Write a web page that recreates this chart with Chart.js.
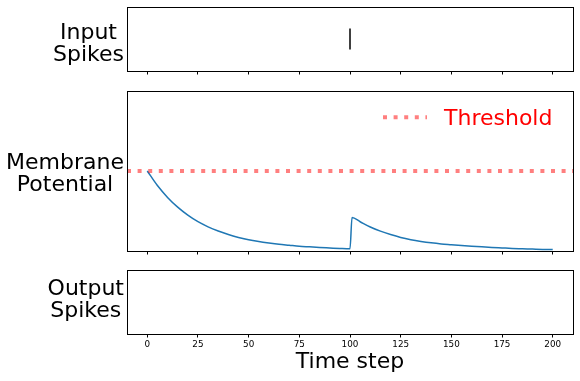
<!DOCTYPE html>
<html>
<head>
<meta charset="utf-8">
<script src="https://cdn.jsdelivr.net/npm/chart.js@4.4.1/dist/chart.umd.min.js"></script>
<style>
  html, body { margin: 0; padding: 0; background: #ffffff; }
  body { width: 580px; height: 381px; overflow: hidden; position: relative; font-family: "DejaVu Sans", sans-serif; }
  canvas { position: absolute; left: 0; }
  .ylab { position: absolute; right: 456px; text-align: center; font-size: 22px; line-height: 22px; color: #000; white-space: nowrap; }
  .leg { position: absolute; left: 444px; font-size: 22px; line-height: 26px; color: #ff0000; white-space: nowrap; }
</style>
</head>
<body>
<canvas id="c1" width="580" height="85" style="top:0px"></canvas>
<canvas id="c2" width="580" height="180" style="top:85px"></canvas>
<canvas id="c3" width="580" height="116" style="top:265px"></canvas>
<div class="ylab" style="top:21.4px">Input<br>Spikes</div>
<div class="ylab" style="top:151.4px">Membrane<br>Potential</div>
<div class="ylab" style="top:277px">Output<br>Spikes</div>
<div class="leg" style="top:105.4px">Threshold</div>
<script>
// ---- data ----
const timeTicks = [0, 25, 50, 75, 100, 125, 150, 175, 200];
const xLimits = [-10, 210];
const inputSpikeTimes = [100];
const outputSpikeTimes = [];
const thresholdValue = 0.5;
const memTime = [0, 5, 10, 15, 20, 25, 30, 35, 40, 45, 50, 55, 60, 65, 70, 75, 80, 85, 90, 95, 100,
                 101, 105, 110, 115, 120, 125, 130, 135, 140, 145, 150, 155, 160, 165, 170, 175, 180, 185, 190, 195, 200];
const memValues = [0.500, 0.409, 0.335, 0.274, 0.224, 0.183, 0.151, 0.125, 0.103, 0.085, 0.070, 0.059, 0.050, 0.042, 0.036, 0.030, 0.026, 0.022, 0.019, 0.016, 0.014,
                   0.210, 0.183, 0.150, 0.124, 0.103, 0.085, 0.071, 0.060, 0.051, 0.044, 0.039, 0.034, 0.030, 0.026, 0.022, 0.019, 0.016, 0.014, 0.012, 0.010, 0.009];

// ---- helpers ----
const framePlugin = {
  id: 'frame',
  afterDraw(chart) {
    const { ctx, chartArea: a } = chart;
    ctx.save();
    ctx.strokeStyle = '#000';
    ctx.lineWidth = 1;
    const l = Math.round(a.left) + 0.5, t = Math.round(a.top) + 0.5;
    const r = Math.round(a.right) + 0.5, b = Math.round(a.bottom) + 0.5;
    ctx.strokeRect(l, t, r - l, b - t);
    ctx.restore();
  }
};

const legendLinePlugin = {
  id: 'legendLine',
  afterDraw(chart) {
    const { ctx, chartArea: a } = chart;
    ctx.save();
    ctx.strokeStyle = 'rgba(255,0,0,0.5)';
    ctx.lineWidth = 4;
    ctx.setLineDash([4, 6.6]);
    ctx.lineCap = 'butt';
    ctx.beginPath();
    const y = a.top + 26.3;
    ctx.moveTo(383, y);
    ctx.lineTo(427, y);
    ctx.stroke();
    ctx.restore();
  }
};

function xScale(axisHeight, showLabels) {
  return {
    type: 'linear',
    min: xLimits[0],
    max: xLimits[1],
    afterBuildTicks: (s) => { s.ticks = timeTicks.map(v => ({ value: v })); },
    afterFit: (s) => { s.height = axisHeight; },
    border: { display: false },
    grid: { drawOnChartArea: false, drawTicks: true, tickLength: 3.5, color: '#000', tickColor: '#000', tickWidth: 1 },
    ticks: {
      display: showLabels,
      padding: 1.5,
      color: '#000',
      font: { family: 'DejaVu Sans', size: 8.8 },
      maxRotation: 0,
      autoSkip: false,
      callback: (v) => String(v)
    },
    title: showLabels ? {
      display: true,
      text: 'Time step',
      color: '#000',
      font: { family: 'DejaVu Sans', size: 22 },
      padding: { top: 0, bottom: 6 }
    } : { display: false }
  };
}

function baseOptions(topPad, axisHeight, showLabels, yMax) {
  return {
    responsive: false,
    animation: false,
    devicePixelRatio: 1,
    events: [],
    layout: { autoPadding: false, padding: { left: 127, right: 7, top: topPad, bottom: 0 } },
    plugins: { legend: { display: false }, tooltip: { enabled: false } },
    scales: {
      x: xScale(axisHeight, showLabels),
      y: { type: 'linear', min: 0, max: yMax, display: false }
    }
  };
}

// ---- panel 1: input spikes ----
new Chart(document.getElementById('c1'), {
  type: 'scatter',
  data: {
    datasets: [{
      label: 'Input',
      data: inputSpikeTimes.map(t => ({ x: t, y: 0.5 })),
      pointStyle: 'line',
      rotation: 90,
      pointRadius: 10.5,
      pointHoverRadius: 10.5,
      borderWidth: 1.5,
      borderColor: '#000',
      backgroundColor: '#000'
    }]
  },
  options: baseOptions(7, 14, false, 1),
  plugins: [framePlugin]
});

// ---- panel 2: membrane potential ----
new Chart(document.getElementById('c2'), {
  type: 'line',
  data: {
    datasets: [
      {
        label: 'Threshold',
        data: [{ x: xLimits[0], y: thresholdValue }, { x: xLimits[1], y: thresholdValue }],
        borderColor: 'rgba(255,0,0,0.5)',
        borderWidth: 4,
        borderDash: [4, 6.6],
        borderCapStyle: 'butt',
        pointRadius: 0,
        fill: false,
        order: 0
      },
      {
        label: 'Membrane',
        data: memTime.map((t, i) => ({ x: t, y: memValues[i] })),
        borderColor: '#1f77b4',
        borderWidth: 1.5,
        pointRadius: 0,
        fill: false,
        cubicInterpolationMode: 'monotone',
        order: 1
      }
    ]
  },
  options: baseOptions(6, 14, false, 1),
  plugins: [framePlugin, legendLinePlugin]
});

// ---- panel 3: output spikes ----
new Chart(document.getElementById('c3'), {
  type: 'scatter',
  data: {
    datasets: [{
      label: 'Output',
      data: outputSpikeTimes.map(t => ({ x: t, y: 0.5 })),
      pointStyle: 'line',
      rotation: 90,
      pointRadius: 10.5,
      borderWidth: 1.5,
      borderColor: '#000'
    }]
  },
  options: baseOptions(5, 47, true, 1),
  plugins: [framePlugin]
});
</script>
</body>
</html>
